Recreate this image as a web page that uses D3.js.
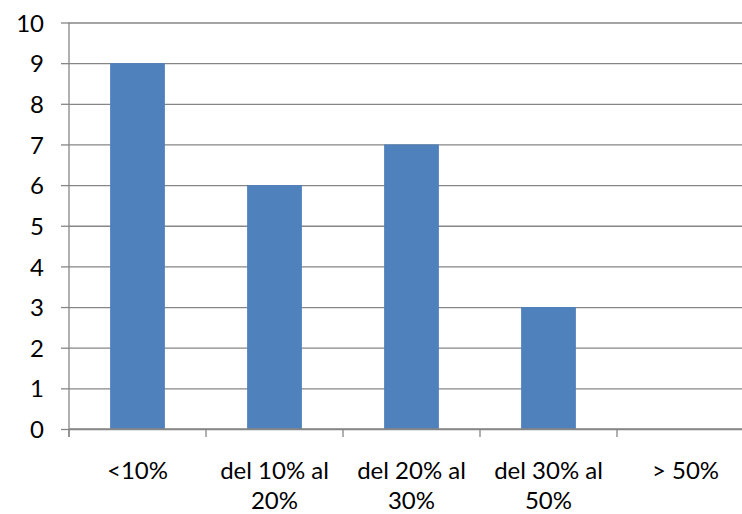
<!DOCTYPE html>
<html>
<head>
<meta charset="utf-8">
<script src="https://cdn.jsdelivr.net/npm/d3@7"></script>
<style>
  body { margin: 0; background: #fff; }
  text { font-family: Lato, "Open Sans", sans-serif; font-size: 24px; fill: #000; }
</style>
</head>
<body>
<script>
// data
const categories = ["<10%", "del 10% al 20%", "del 20% al 30%", "del 30% al 50%", "> 50%"];
const counts = [9, 6, 7, 3, 0];
const yTicks = [0, 1, 2, 3, 4, 5, 6, 7, 8, 9, 10];

const width = 742, height = 514;
const margin = {top: 22.5, right: -12, bottom: 85, left: 69};

const svg = d3.select("body").append("svg")
    .attr("width", width)
    .attr("height", height);

const x = d3.scaleBand()
    .domain(categories)
    .range([margin.left, width - margin.right])
    .paddingInner(0.6)
    .paddingOuter(0.3);

// outer edges of the categories (for the tick marks)
const xEdge = d3.scaleBand()
    .domain(categories)
    .range([margin.left, width - margin.right]);

const y = d3.scaleLinear()
    .domain([0, 10])
    .range([height - margin.bottom, margin.top]);

const grey = "#868686";

// gridlines + y ticks
const yAxis = svg.append("g")
    .attr("transform", "translate(" + margin.left + ",0)")
    .call(d3.axisLeft(y).tickValues(yTicks).tickSize(8).tickPadding(17))
    .call(g => g.select(".domain").remove());
yAxis.selectAll(".tick line").attr("stroke", grey).attr("stroke-width", 1.3);
yAxis.selectAll(".tick").append("line")
    .attr("x1", 0).attr("x2", width)
    .attr("stroke", grey).attr("stroke-width", 1.3);
yAxis.selectAll(".tick text").attr("font-size", null).attr("font-family", null).attr("dy", "0.36em");

// bars
svg.append("g")
  .selectAll("rect")
  .data(counts)
  .join("rect")
    .attr("x", (d, i) => x(categories[i]))
    .attr("y", d => y(d))
    .attr("width", x.bandwidth())
    .attr("height", d => y(0) - y(d))
    .attr("fill", "#4f81bd");

// y axis line
svg.append("line")
    .attr("x1", margin.left).attr("x2", margin.left)
    .attr("y1", y(10)).attr("y2", y(0) + 8)
    .attr("stroke", grey).attr("stroke-width", 1.3);

// x axis line and category tick marks
const xg = svg.append("g");
xg.append("line")
    .attr("x1", margin.left).attr("x2", width)
    .attr("y1", y(0)).attr("y2", y(0))
    .attr("stroke", grey).attr("stroke-width", 1.3);
xg.selectAll("line.tk")
  .data(categories)
  .join("line")
    .attr("class", "tk")
    .attr("x1", d => xEdge(d)).attr("x2", d => xEdge(d))
    .attr("y1", y(0)).attr("y2", y(0) + 8)
    .attr("stroke", grey).attr("stroke-width", 1.3);

// category labels, wrapped
const lbl = xg.selectAll("text")
  .data(categories)
  .join("text")
    .attr("text-anchor", "middle")
    .attr("x", d => x(d) + x.bandwidth() / 2)
    .attr("y", y(0) + 50);

lbl.each(function(d) {
  const t = d3.select(this);
  const maxW = xEdge.bandwidth() * 0.9;
  const words = d.split(" ");
  let lines = [], cur = [];
  const probe = t.append("tspan");
  words.forEach(w => {
    const trial = cur.concat(w).join(" ");
    probe.text(trial);
    if (probe.node().getComputedTextLength() > maxW && cur.length) {
      lines.push(cur.join(" "));
      cur = [w];
    } else cur.push(w);
  });
  lines.push(cur.join(" "));
  probe.remove();
  lines.forEach((l, i) => {
    t.append("tspan")
      .attr("x", t.attr("x"))
      .attr("dy", i ? 30 : 0)
      .text(l);
  });
});
</script>
</body>
</html>
